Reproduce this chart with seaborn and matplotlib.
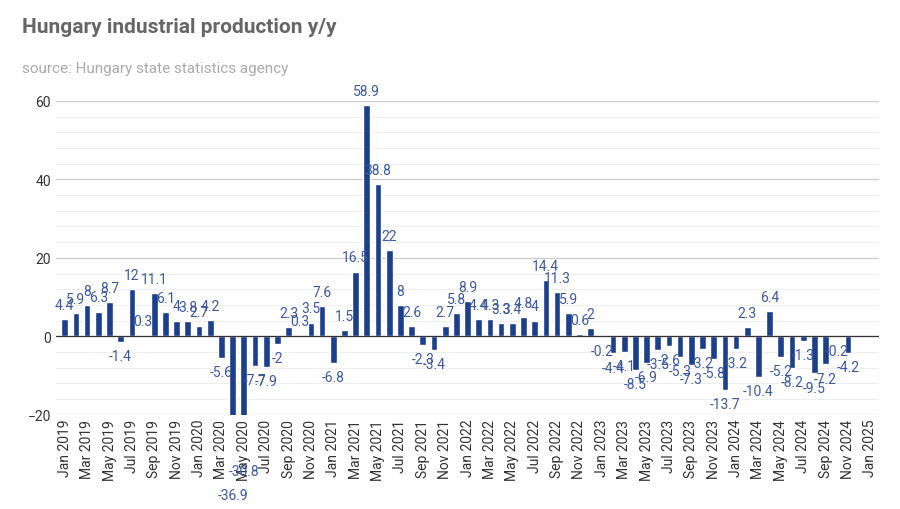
import matplotlib
matplotlib.use("Agg")
import matplotlib.pyplot as plt
import seaborn as sns
import numpy as np
import pandas as pd

values = [4.4, 5.9, 8, 6.3, 8.7, -1.4, 12, 0.3, 11.1, 6.1, 4.0, 3.8,
          2.7, 4.2, -5.6, -36.9, -30.8, -7.7, -7.9, -2, 2.3, 0.3, 3.5, 7.6,
          -6.8, 1.5, 16.5, 58.9, 38.8, 22, 8, 2.6, -2.3, -3.4, 2.7, 5.8,
          8.9, 4.4, 4.3, 3.3, 3.4, 4.8, 4, 14.4, 11.3, 5.9, 0.6, 2,
          -0.2, -4.4, -4.1, -8.5, -6.9, -3.5, -2.6, -5.3, -7.3, -3.2, -5.8, -13.7,
          -3.2, 2.3, -10.4, 6.4, -5.2, -8.2, -1.3, -9.5, -7.2, -0.2, -4.2]
months = ["Jan", "Feb", "Mar", "Apr", "May", "Jun", "Jul", "Aug", "Sep", "Oct", "Nov", "Dec"]
tick_labels = [f"{months[i % 12]} {2019 + i // 12}" for i in range(0, 73, 2)]

df = pd.DataFrame({"pos": np.arange(len(values)), "val": values})

sns.set_theme(style="white")
plt.rcParams["font.family"] = ["Roboto", "DejaVu Sans"]
fig = plt.figure(figsize=(9, 5.1), dpi=100)
ax = fig.add_axes([0.062, 0.185, 0.915, 0.615])
sns.barplot(data=df, x="pos", y="val", native_scale=True, color="#1c3f8c",
            saturation=1, width=0.6, ax=ax, zorder=3)
ax.set_ylim(-20, 60)
ax.set_xlim(-0.8, 72.8)
ax.set_yticks([-20, 0, 20, 40, 60])
ax.set_yticks(np.arange(-20, 61, 4), minor=True)
ax.grid(axis="y", which="major", color="#cccccc", lw=0.9, zorder=0)
ax.grid(axis="y", which="minor", color="#eeeeee", lw=0.8, zorder=0)
ax.axhline(0, color="#333333", lw=0.9, zorder=4)
ax.set_xticks(np.arange(0, 73, 2))
ax.set_xticklabels(tick_labels, rotation=90, fontsize=10, color="#333333")
ax.tick_params(axis="y", labelsize=10, colors="#333333", length=0)
ax.tick_params(axis="x", length=0, pad=3)
for s in ax.spines.values():
    s.set_visible(False)
ax.set_xlabel("")
ax.set_ylabel("")
for p, v in zip(df["pos"], df["val"]):
    ax.text(p, v + (1.8 if v >= 0 else -1.8), f"{v:g}", ha="center",
            va="bottom" if v >= 0 else "top", fontsize=10, color="#3d5a99",
            clip_on=False, zorder=5)
fig.text(0.024, 0.935, "Hungary industrial production y/y", fontsize=15,
         fontweight="bold", color="#666666")
fig.text(0.024, 0.857, "source: Hungary state statistics agency", fontsize=11,
         color="#aaaaaa")
fig.savefig("out.png", dpi=100)
